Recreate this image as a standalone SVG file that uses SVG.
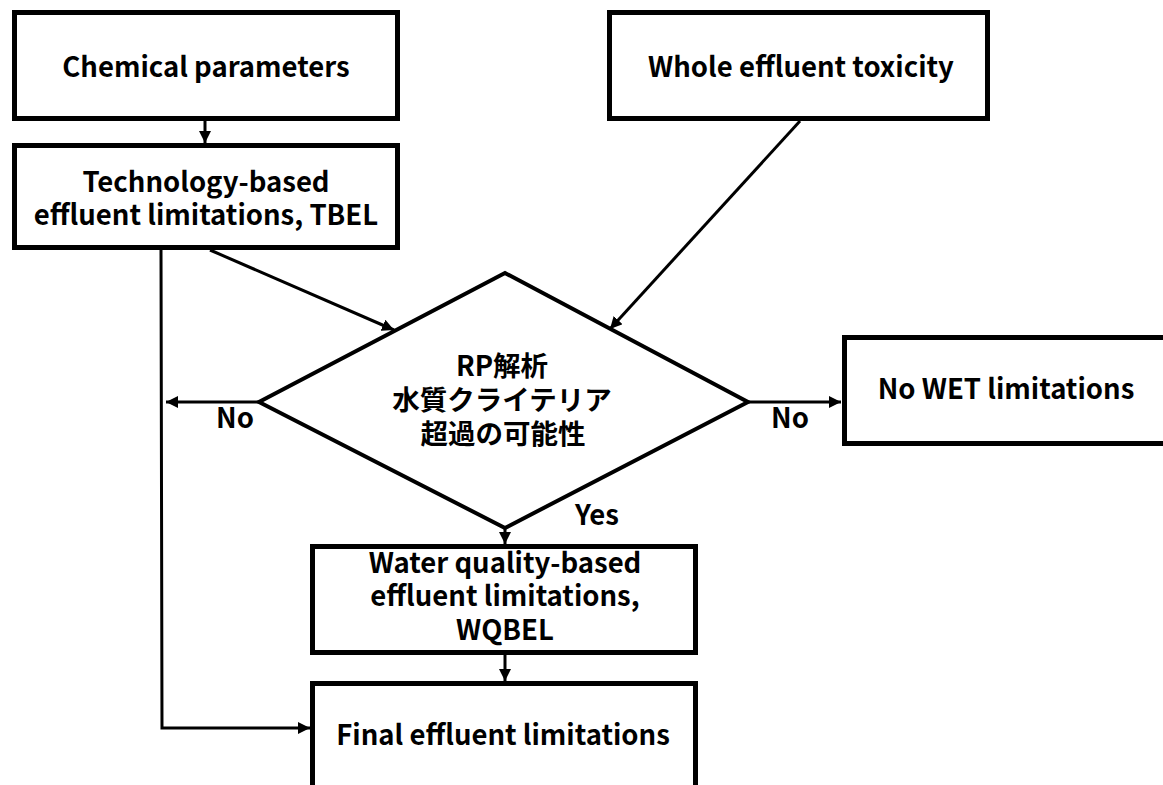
<svg xmlns="http://www.w3.org/2000/svg" width="1163" height="785" viewBox="0 0 1163 785">
<style>
.box{fill:#fff;stroke:#000;stroke-width:5}
.dia{fill:#fff;stroke:#000;stroke-width:4}
.con{fill:none;stroke:#000;stroke-width:3}
.t{font-family:"Noto Sans CJK JP","Noto Sans",sans-serif;font-weight:bold;font-size:27.5px;fill:#000;text-anchor:middle}
</style>
<defs>
<marker id="ah" viewBox="0 0 10 10" refX="10" refY="5" markerWidth="4" markerHeight="4" markerUnits="strokeWidth" orient="auto">
<path d="M0,0 L10,5 L0,10 z" fill="#000"/>
</marker>
</defs>
<rect width="1163" height="785" fill="#fff"/>
<g id="connectors">
<line class="con" x1="205" y1="121" x2="205" y2="143" marker-end="url(#ah)"/>
<line class="con" x1="210" y1="250" x2="394" y2="330" marker-end="url(#ah)"/>
<line class="con" x1="800" y1="121" x2="610" y2="329" marker-end="url(#ah)"/>
<polyline class="con" points="161,250 162,728 310,728" marker-end="url(#ah)"/>
<line class="con" x1="259" y1="402" x2="166" y2="402" marker-end="url(#ah)"/>
<line class="con" x1="748" y1="402" x2="841" y2="402" marker-end="url(#ah)"/>
<line class="con" x1="505" y1="528" x2="505" y2="544" marker-end="url(#ah)"/>
<line class="con" x1="505" y1="654" x2="505" y2="681" marker-end="url(#ah)"/>
<text class="t" x="235" y="428">No</text>
<text class="t" x="790" y="428">No</text>
<text class="t" x="597" y="525">Yes</text>
</g>
<g id="chem">
<rect class="box" x="14.5" y="12.5" width="383" height="106"/>
<text class="t" x="206" y="77">Chemical parameters</text>
</g>
<g id="wet">
<rect class="box" x="609.5" y="12.5" width="378" height="106"/>
<text class="t" x="801" y="77">Whole effluent toxicity</text>
</g>
<g id="tbel">
<rect class="box" x="14.5" y="145.5" width="383" height="102"/>
<text class="t" x="206" y="192">Technology-based</text>
<text class="t" x="206" y="225">effluent limitations, TBEL</text>
</g>
<g id="rp">
<polygon class="dia" points="505,273 748,402 505,528 259,402"/>
<text class="t" x="502" y="376">RP解析</text>
<text class="t" x="502" y="410">水質クライテリア</text>
<text class="t" x="503" y="444">超過の可能性</text>
</g>
<g id="nowet">
<rect class="box" x="844.5" y="337.5" width="330" height="106"/>
<text class="t" x="1006" y="399">No WET limitations</text>
</g>
<g id="wqbel">
<rect class="box" x="312.5" y="546.5" width="383" height="106"/>
<text class="t" x="505" y="573">Water quality-based</text>
<text class="t" x="505" y="606">effluent limitations,</text>
<text class="t" x="505" y="640">WQBEL</text>
</g>
<g id="final">
<rect class="box" x="312.5" y="683.5" width="383" height="120"/>
<text class="t" x="503" y="745">Final effluent limitations</text>
</g>
</svg>
